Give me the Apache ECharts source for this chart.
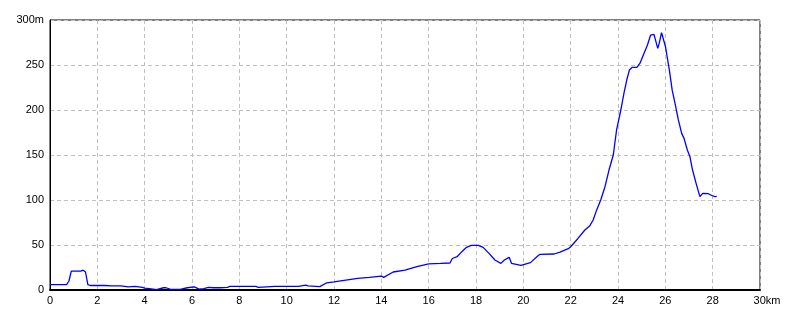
<!DOCTYPE html>
<html>
<head>
<meta charset="utf-8">
<script src="https://cdn.jsdelivr.net/npm/echarts@6/dist/echarts.min.js"></script>
<style>html,body{margin:0;padding:0;background:#fff}#c{width:800px;height:320px}</style>
</head>
<body>
<div id="c"></div>
<script>
const distKm = [0, 0.3, 0.35, 0.7, 0.8, 0.9, 1.0, 1.3, 1.4, 1.5, 1.6, 1.7, 2.0, 2.3, 2.6, 3.0, 3.3, 3.6, 3.9, 4.0, 4.2, 4.5, 4.8, 4.9, 5.1, 5.5, 5.8, 6.1, 6.3, 6.5, 6.7, 6.9, 7.2, 7.5, 7.6, 8.0, 8.7, 8.8, 9.5, 10.0, 10.5, 10.8, 10.9, 11.4, 11.7, 12.0, 12.5, 13.0, 13.5, 14.0, 14.1, 14.5, 15.0, 15.5, 16.0, 16.5, 16.9, 17.0, 17.2, 17.4, 17.6, 17.8, 18.1, 18.3, 18.55, 18.8, 19.05, 19.2, 19.4, 19.5, 19.9, 20.3, 20.55, 20.7, 21.3, 21.55, 21.9, 22.0, 22.3, 22.6, 22.8, 22.95, 23.1, 23.27, 23.45, 23.62, 23.8, 23.94, 24.12, 24.25, 24.37, 24.48, 24.6, 24.8, 24.93, 25.1, 25.24, 25.38, 25.52, 25.68, 25.74, 25.84, 25.91, 26.01, 26.17, 26.29, 26.41, 26.55, 26.69, 26.79, 26.93, 27.04, 27.15, 27.3, 27.46, 27.58, 27.82, 27.96, 28.1, 28.17];
const elevM = [6, 6, 7, 6, 10, 21, 21, 21, 22, 20, 6, 5, 5, 5, 4.5, 4.5, 3.5, 4, 3, 2, 1.5, 0.5, 2.5, 2.5, 0.7, 0.7, 2.5, 3.5, 1, 1.5, 3, 2.5, 2.5, 3, 4, 4, 4, 3, 4, 4, 4, 5.5, 4.5, 3.7, 8, 9, 11, 13, 14, 15.5, 14, 20, 22, 26, 29, 29.5, 30, 35, 37, 42.6, 47.4, 49.6, 49.6, 47.4, 40.7, 33.3, 29.6, 33.3, 36.3, 29.6, 27.4, 30.4, 36.3, 39.6, 40, 42, 45.9, 48, 57, 66.7, 71, 77.8, 89, 100, 114.8, 133.3, 150, 177.8, 200, 218.5, 233.3, 244.4, 247.4, 247.4, 252, 263, 272, 283.3, 284, 268.5, 274, 286, 287, 270, 244.4, 222, 207.4, 189, 174, 168.5, 155.6, 148, 133.3, 118.5, 103.7, 107.4, 107, 105, 103.7, 104];
const xTickMax = 30, xTickStep = 2, yTickMax = 300, yTickStep = 50;

const chart = echarts.init(document.getElementById('c'), null, {renderer: 'canvas'});
const font = {fontFamily: 'Liberation Sans, Arial, sans-serif', fontSize: 11, color: '#000'};
chart.setOption({
  animation: false,
  backgroundColor: '#fff',
  grid: {left: 50, right: 40, top: 20, bottom: 30, show: true, borderColor: '#000', borderWidth: 1, backgroundColor: 'transparent'},
  xAxis: {
    type: 'value', min: 0, max: xTickMax, interval: xTickStep,
    axisLine: {show: true, lineStyle: {color: '#000', width: 2}},
    axisTick: {show: false},
    splitLine: {show: true, lineStyle: {color: '#c0c0c0', type: [4, 3], width: 1}},
    axisLabel: Object.assign({}, font, {
      margin: 5,
      formatter: v => v === xTickMax ? '{u|' + v + 'km}' : String(v),
      rich: {u: Object.assign({}, font, {padding: [0, 0, 0, 14]})}
    })
  },
  yAxis: {
    type: 'value', min: 0, max: yTickMax, interval: yTickStep,
    axisLine: {show: true, lineStyle: {color: '#000', width: 1}},
    axisTick: {show: false},
    splitLine: {show: true, lineStyle: {color: '#c0c0c0', type: [4, 3], width: 1}},
    axisLabel: Object.assign({}, font, {
      margin: 6,
      formatter: v => v === yTickMax ? v + 'm' : String(v)
    })
  },
  series: [{
    type: 'line',
    data: distKm.map((d, i) => [d, elevM[i]]),
    showSymbol: false,
    symbol: 'none',
    smooth: false,
    lineStyle: {color: '#0000ff', width: 1.3}
  }]
});
</script>
</body>
</html>
